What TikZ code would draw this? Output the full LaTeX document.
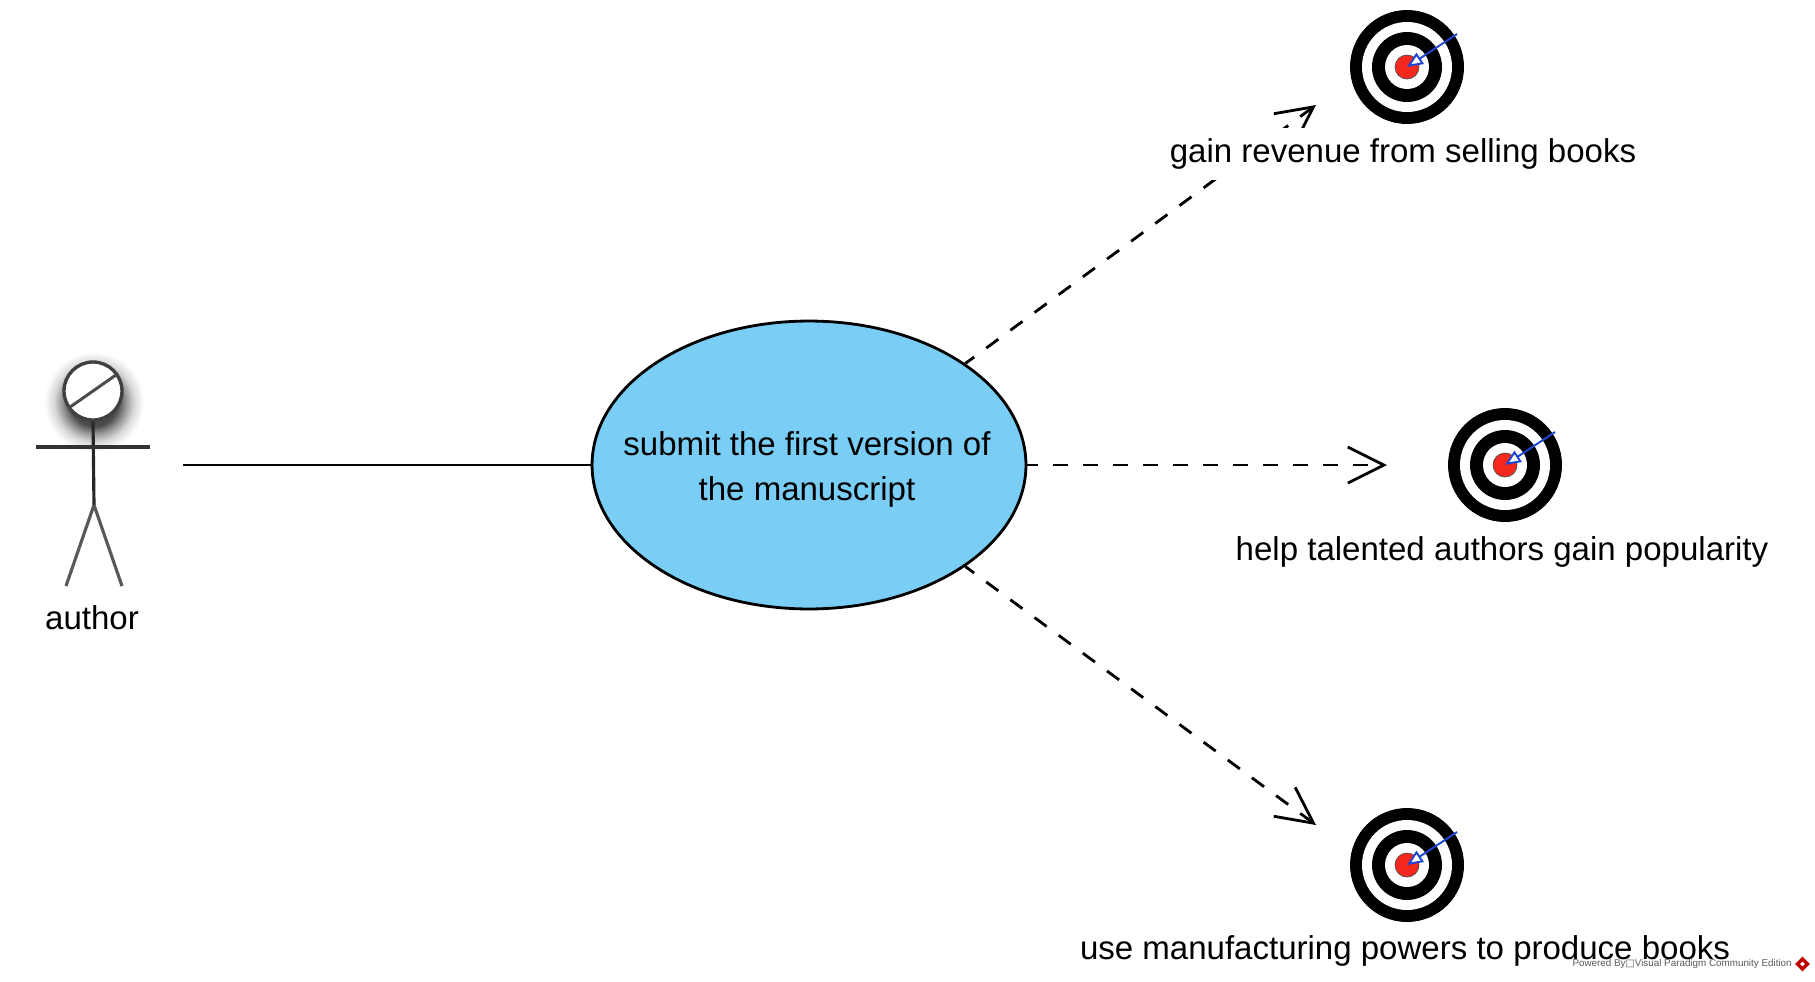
\documentclass[tikz,border=0pt]{standalone}
\usepackage{fontspec}
\setmainfont{Liberation Sans}
\newfontfamily\boxfont{DejaVu Sans}
\usetikzlibrary{positioning, arrows.meta, calc, shapes.geometric}
\definecolor{casefill}{HTML}{7ACEF5}
\definecolor{goalred}{HTML}{F5281E}
\definecolor{goalblue}{HTML}{1E46D2}
\pgfdeclareradialshading{headglow}{\pgfpoint{0bp}{0bp}}{color(0bp)=(black!80); color(12bp)=(black!70); color(16bp)=(black!40); color(20bp)=(black!15); color(25bp)=(white); color(50bp)=(white)}

\begin{document}
\begin{tikzpicture}[
        x=0.02cm, y=-0.02cm,
        every node/.style={font=\fontsize{18.8}{25.6}\selectfont},
        usecase/.style={ellipse, draw=black, line width=1.6pt, fill=casefill, inner sep=0pt, minimum width=8.68cm, minimum height=5.76cm},
        ring/.style={circle, fill=black, inner sep=0pt},
        hole/.style={ring, fill=white},
        bullseye/.style={circle, draw=black!70, line width=0.4pt, fill=goalred, inner sep=0pt, minimum size=0.48cm},
        dart/.style={draw=goalblue, line width=1.1pt, -{Triangle[open, fill=white, length=9pt, width=7.5pt]}},
        stickline/.style={draw=black!85, line width=1.8pt},
        assoc/.style={draw=black, line width=1.6pt},
        goalarrow/.style={assoc, dash pattern=on 8.54pt off 8.54pt, dash phase=2.3pt, -{Straight Barb[length=20.5pt, width=20.5pt, line width=1.6pt]}},
        goallabel/.style={fill=white, inner sep=0pt, minimum height=29.6pt},
    ]
    \useasboundingbox (0,0) rectangle (1815,981);

    % Actor
    \shade[shading=headglow] (94,402) circle (50);
    \node[circle, draw=black!75, line width=1.9pt, fill=white, inner sep=0pt, minimum size=1.16cm] (head) at (93,391) {};
    \draw[stickline, draw=black!70, line width=1.7pt] (head.215) -- (head.35);
    \coordinate (hip) at (94,505);
    \draw[stickline] (head.south) -- (hip);
    \draw[stickline, line width=2.4pt, draw=black!80] (36,447) -- (150,447);
    \draw[stickline, draw=black!65] (hip) -- (66,586);
    \draw[stickline, draw=black!65] (hip) -- (122,586);
    \node (author) at (92,618) {author};

    % Use case
    \node[usecase] (submit) at (809,465) {};
    \node[align=center] (submittext) at (807,469) {submit the first version of\\the manuscript};

    % Arrow ends
    \coordinate (actorend) at (183,465);
    \coordinate (tipA) at (1316,105);
    \coordinate (tipB) at (1387,465);
    \coordinate (tipC) at (1316,825);

    % Connectors
    \draw[assoc] (actorend) -- (submit);
    \draw[goalarrow] (submit.33) -- (tipA);
    \draw[goalarrow] (submit.east) -- (tipB);
    \draw[goalarrow] (submit.-33) -- (tipC);

    % Goals
    \foreach \name/\cx/\cy in {goalA/1407/67, goalB/1505/465, goalC/1407/865}{
        \node[ring, minimum size=2.28cm] (\name) at (\cx,\cy) {};
        \node[hole, minimum size=1.80cm] at (\name.center) {};
        \node[ring, minimum size=1.40cm] at (\name.center) {};
        \node[hole, minimum size=0.88cm] at (\name.center) {};
        \node[bullseye] at (\name.center) {};
        \draw[dart] ($(\name.center)+(50,-33)$) -- (\name.center);
    }

    % Labels
    \node[goallabel] (labelA) at (1403,154) {gain revenue from selling books};
    \node[goallabel] (labelB) at (1502,552) {help talented authors gain popularity};
    \node[goallabel] (labelC) at (1405,951) {use manufacturing powers to produce books};

    % Edition mark
    \node[anchor=east, inner sep=0pt, text=black!65, font=\fontsize{5.6}{7}\selectfont] (mark) at (1792,964) {Powered By{\boxfont □}Visual Paradigm Community Edition};
    \node[diamond, fill=red!75!black, inner sep=0pt, minimum size=0.3cm, right=1.5pt of mark] (markicon) {};
    \node[diamond, fill=white, inner sep=0pt, minimum size=0.1cm] at (markicon.center) {};
\end{tikzpicture}
\end{document}
